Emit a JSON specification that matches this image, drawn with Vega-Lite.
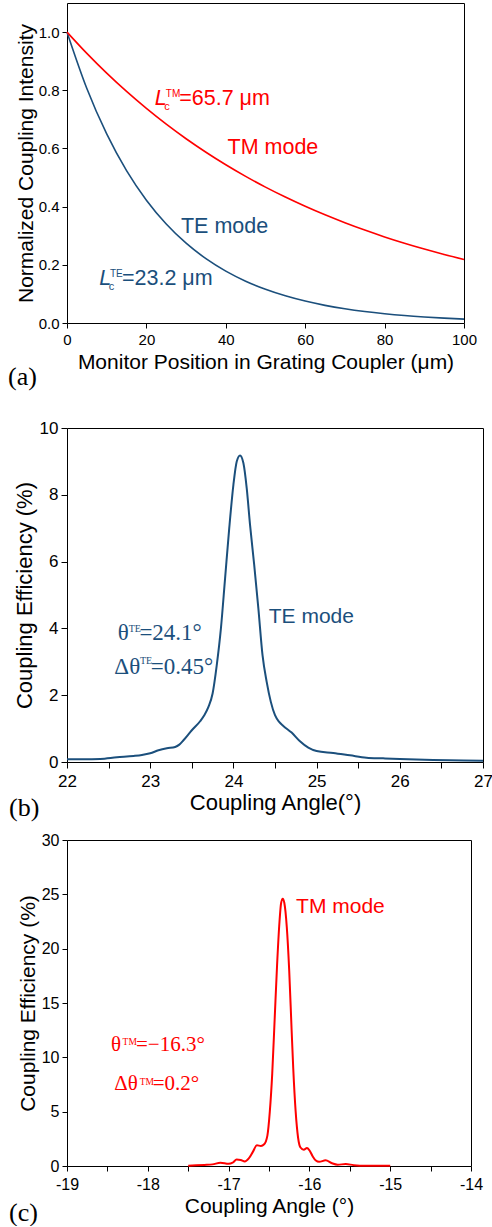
{
  "$schema": "https://vega.github.io/schema/vega-lite/v6.json",
  "padding": {"left": 8, "top": 2, "right": 0, "bottom": 0},
  "background": "white",
  "config": {
    "font": "Liberation Sans",
    "view": {"stroke": null},
    "axis": {"domainColor": "#000", "tickColor": "#000", "labelColor": "#000", "titleColor": "#000", "labelFont": "Liberation Sans", "titleFont": "Liberation Sans", "titleFontWeight": "normal", "grid": false, "labelOverlap": false, "labelFlush": false, "domainWidth": 1, "tickWidth": 1}
  },
  "bounds": "flush",
  "spacing": 105,
  "vconcat": [
    {
      "width": 397, "height": 320,
      "title": {"text": "(a)", "orient": "bottom", "anchor": "start", "frame": "group", "font": "Liberation Serif", "fontSize": 26, "fontWeight": "normal", "color": "#000", "dx": -59, "dy": -8, "offset": 0},
      "resolve": {"axis": {"x": "independent", "y": "independent"}},
      "layer": [
        {
          "layer": [
            {
              "data": {"values": [
                {"x":0,"y":1,"mode":"TE"},{"x":5,"y":0.8061,"mode":"TE"},{"x":10,"y":0.6499,"mode":"TE"},{"x":15,"y":0.5238,"mode":"TE"},{"x":20,"y":0.4223,"mode":"TE"},{"x":25,"y":0.3404,"mode":"TE"},{"x":30,"y":0.2744,"mode":"TE"},{"x":35,"y":0.2212,"mode":"TE"},{"x":40,"y":0.1783,"mode":"TE"},{"x":45,"y":0.1437,"mode":"TE"},{"x":50,"y":0.1159,"mode":"TE"},{"x":55,"y":0.0934,"mode":"TE"},{"x":60,"y":0.0753,"mode":"TE"},{"x":65,"y":0.0607,"mode":"TE"},{"x":70,"y":0.0489,"mode":"TE"},{"x":75,"y":0.0394,"mode":"TE"},{"x":80,"y":0.0318,"mode":"TE"},{"x":85,"y":0.0256,"mode":"TE"},{"x":90,"y":0.0207,"mode":"TE"},{"x":95,"y":0.0167,"mode":"TE"},{"x":100,"y":0.0134,"mode":"TE"},
                {"x":0,"y":1,"mode":"TM"},{"x":5,"y":0.9267,"mode":"TM"},{"x":10,"y":0.8588,"mode":"TM"},{"x":15,"y":0.7959,"mode":"TM"},{"x":20,"y":0.7376,"mode":"TM"},{"x":25,"y":0.6835,"mode":"TM"},{"x":30,"y":0.6334,"mode":"TM"},{"x":35,"y":0.587,"mode":"TM"},{"x":40,"y":0.544,"mode":"TM"},{"x":45,"y":0.5041,"mode":"TM"},{"x":50,"y":0.4672,"mode":"TM"},{"x":55,"y":0.433,"mode":"TM"},{"x":60,"y":0.4012,"mode":"TM"},{"x":65,"y":0.3718,"mode":"TM"},{"x":70,"y":0.3446,"mode":"TM"},{"x":75,"y":0.3193,"mode":"TM"},{"x":80,"y":0.2959,"mode":"TM"},{"x":85,"y":0.2742,"mode":"TM"},{"x":90,"y":0.2541,"mode":"TM"},{"x":95,"y":0.2355,"mode":"TM"},{"x":100,"y":0.2183,"mode":"TM"}
              ]},
              "mark": {"type": "line", "strokeWidth": 1.6, "interpolate": "monotone"},
              "encoding": {
                "x": {"field": "x", "type": "quantitative", "scale": {"domain": [0, 100], "nice": false, "zero": false},
                  "axis": {"orient": "bottom", "title": "Monitor Position in Grating Coupler (μm)", "values": [0,10,20,30,40,50,60,70,80,90,100], "labelExpr": "datum.value % 20 == 0 ? datum.label : ''", "tickSize": 5, "labelPadding": 4, "labelFontSize": 15, "titleFontSize": 21, "titlePadding": 4, "encode": {"ticks": {"update": {"y2": {"signal": "datum.value % 20 == 0 ? 5 : 3"}}}}}},
                "y": {"field": "y", "type": "quantitative", "scale": {"domain": [0, 1.1], "nice": false, "zero": false},
                  "axis": {"orient": "left", "title": "Normalized Coupling Intensity", "values": [0,0.1,0.2,0.3,0.4,0.5,0.6,0.7,0.8,0.9,1.0], "labelExpr": "round(datum.value*10) % 2 == 0 ? format(datum.value, '.1f') : ''", "tickSize": 5, "labelPadding": 3, "labelFontSize": 15, "titleFontSize": 21, "titlePadding": 2, "encode": {"ticks": {"update": {"x2": {"signal": "round(datum.value*10) % 2 == 0 ? -5 : -3"}}}}}},
                "color": {"field": "mode", "type": "nominal", "scale": {"domain": ["TE", "TM"], "range": ["#1b4f7c", "#ff0000"]}, "legend": null}
              }
            },
            {
              "data": {"values": [
                {"x":28.27,"y":0.748,"t":"=65.7 μm","mode":"TM"},
                {"x":40.43,"y":0.582,"t":"TM mode","mode":"TM"},
                {"x":28.7,"y":0.3105,"t":"TE mode","mode":"TE"},
                {"x":13.85,"y":0.131,"t":"=23.2 μm","mode":"TE"}
              ]},
              "mark": {"type": "text", "font": "Liberation Sans", "fontSize": 21.5, "align": "left", "baseline": "alphabetic"},
              "encoding": {
                "x": {"field": "x", "type": "quantitative", "scale": {"domain": [0, 100], "nice": false, "zero": false}},
                "y": {"field": "y", "type": "quantitative", "scale": {"domain": [0, 1.1], "nice": false, "zero": false}},
                "text": {"field": "t"},
                "color": {"field": "mode", "type": "nominal", "scale": {"domain": ["TE", "TM"], "range": ["#1b4f7c", "#ff0000"]}, "legend": null}
              }
            },
            {
              "data": {"values": [
                {"x":22.1,"y":0.748,"t":"L","mode":"TM"},
                {"x":8.14,"y":0.131,"t":"L","mode":"TE"}
              ]},
              "mark": {"type": "text", "font": "Liberation Sans", "fontStyle": "italic", "fontSize": 21.5, "align": "left", "baseline": "alphabetic"},
              "encoding": {
                "x": {"field": "x", "type": "quantitative", "scale": {"domain": [0, 100], "nice": false, "zero": false}},
                "y": {"field": "y", "type": "quantitative", "scale": {"domain": [0, 1.1], "nice": false, "zero": false}},
                "text": {"field": "t"},
                "color": {"field": "mode", "type": "nominal", "scale": {"domain": ["TE", "TM"], "range": ["#1b4f7c", "#ff0000"]}, "legend": null}
              }
            },
            {
              "data": {"values": [
                {"x":24.5,"y":0.731,"t":"c","mode":"TM"},
                {"x":10.5,"y":0.112,"t":"c","mode":"TE"}
              ]},
              "mark": {"type": "text", "font": "Liberation Sans", "fontSize": 11, "align": "left", "baseline": "alphabetic"},
              "encoding": {
                "x": {"field": "x", "type": "quantitative", "scale": {"domain": [0, 100], "nice": false, "zero": false}},
                "y": {"field": "y", "type": "quantitative", "scale": {"domain": [0, 1.1], "nice": false, "zero": false}},
                "text": {"field": "t"},
                "color": {"field": "mode", "type": "nominal", "scale": {"domain": ["TE", "TM"], "range": ["#1b4f7c", "#ff0000"]}, "legend": null}
              }
            },
            {
              "data": {"values": [
                {"x":24.9,"y":0.7765,"t":"TM","mode":"TM"},
                {"x":10.8,"y":0.158,"t":"TE","mode":"TE"}
              ]},
              "mark": {"type": "text", "font": "Liberation Sans", "fontSize": 10, "align": "left", "baseline": "alphabetic"},
              "encoding": {
                "x": {"field": "x", "type": "quantitative", "scale": {"domain": [0, 100], "nice": false, "zero": false}},
                "y": {"field": "y", "type": "quantitative", "scale": {"domain": [0, 1.1], "nice": false, "zero": false}},
                "text": {"field": "t"},
                "color": {"field": "mode", "type": "nominal", "scale": {"domain": ["TE", "TM"], "range": ["#1b4f7c", "#ff0000"]}, "legend": null}
              }
            }
          ]
        },
        {
          "data": {"values": [{"x": 0, "y": 0}]},
          "mark": {"type": "point", "opacity": 0},
          "encoding": {
            "x": {"field": "x", "type": "quantitative", "scale": {"domain": [0, 100], "nice": false, "zero": false},
              "axis": {"orient": "top", "title": null, "labels": false, "values": [0,10,20,30,40,50,60,70,80,90,100], "tickSize": 0, "encode": {"ticks": {"update": {"y2": {"signal": "datum.value % 20 == 0 ? 5 : 3"}}}}}},
            "y": {"field": "y", "type": "quantitative", "scale": {"domain": [0, 1.1], "nice": false, "zero": false},
              "axis": {"orient": "right", "title": null, "labels": false, "values": [0,0.1,0.2,0.3,0.4,0.5,0.6,0.7,0.8,0.9,1.0], "tickSize": 0, "encode": {"ticks": {"update": {"x2": {"signal": "round(datum.value*10) % 2 == 0 ? -5 : -3"}}}}}}
          }
        }
      ]
    },
    {
      "bounds": "flush",
      "spacing": 78,
      "vconcat": [
        {
          "width": 416, "height": 334,
          "title": {"text": "(b)", "orient": "bottom", "anchor": "start", "frame": "group", "font": "Liberation Serif", "fontSize": 26, "fontWeight": "normal", "color": "#000", "dx": -58, "dy": -18, "offset": 0},
          "resolve": {"axis": {"x": "independent", "y": "independent"}},
          "layer": [
            {
              "layer": [
                {
                  "data": {"values": [
                    {"x":22.0,"y":0.08},{"x":22.2,"y":0.08},{"x":22.4,"y":0.09},{"x":22.6,"y":0.14},{"x":22.8,"y":0.18},{"x":22.9,"y":0.21},{"x":23.0,"y":0.26},{"x":23.1,"y":0.35},{"x":23.2,"y":0.41},{"x":23.3,"y":0.45},{"x":23.35,"y":0.52},{"x":23.4,"y":0.65},{"x":23.5,"y":0.95},{"x":23.6,"y":1.22},{"x":23.65,"y":1.4},{"x":23.7,"y":1.65},{"x":23.75,"y":2.05},{"x":23.8,"y":2.9},{"x":23.85,"y":4.0},{"x":23.9,"y":5.5},{"x":23.95,"y":7.0},{"x":24.0,"y":8.3},{"x":24.04,"y":9.0},{"x":24.08,"y":9.18},{"x":24.12,"y":8.95},{"x":24.16,"y":8.2},{"x":24.2,"y":7.1},{"x":24.25,"y":5.9},{"x":24.3,"y":4.6},{"x":24.35,"y":3.2},{"x":24.4,"y":2.4},{"x":24.45,"y":1.8},{"x":24.5,"y":1.4},{"x":24.55,"y":1.2},{"x":24.6,"y":1.08},{"x":24.7,"y":0.88},{"x":24.8,"y":0.62},{"x":24.9,"y":0.43},{"x":25.0,"y":0.33},{"x":25.2,"y":0.27},{"x":25.4,"y":0.2},{"x":25.6,"y":0.13},{"x":25.8,"y":0.11},{"x":26.0,"y":0.09},{"x":26.3,"y":0.07},{"x":26.6,"y":0.05},{"x":27.0,"y":0.04}
                  ]},
                  "mark": {"type": "line", "strokeWidth": 2, "interpolate": "monotone", "color": "#1b4f7c"},
                  "encoding": {
                    "x": {"field": "x", "type": "quantitative", "scale": {"domain": [22, 27], "nice": false, "zero": false},
                      "axis": {"orient": "bottom", "title": "Coupling Angle(°)", "values": [22,22.5,23,23.5,24,24.5,25,25.5,26,26.5,27], "labelExpr": "datum.value % 1 == 0 ? '' + datum.value : ''", "tickSize": 6, "labelPadding": 5, "labelFontSize": 17, "titleFontSize": 22, "titlePadding": 3, "encode": {"ticks": {"update": {"y2": {"signal": "datum.value % 1 == 0 ? 6 : 3"}}}}}},
                    "y": {"field": "y", "type": "quantitative", "scale": {"domain": [0, 10], "nice": false, "zero": false},
                      "axis": {"orient": "left", "title": "Coupling Efficiency (%)", "values": [0,1,2,3,4,5,6,7,8,9,10], "labelExpr": "datum.value % 2 == 0 ? '' + datum.value : ''", "tickSize": 6, "labelPadding": 3, "labelFontSize": 17, "titleFontSize": 22, "titlePadding": 3, "encode": {"ticks": {"update": {"x2": {"signal": "datum.value % 2 == 0 ? -6 : -3"}}}}}}
                  }
                },
                {
                  "data": {"values": [
                    {"x":22.609,"y":3.664,"t":"θ"},
                    {"x":22.87,"y":3.664,"t":"=24.1°"},
                    {"x":22.569,"y":2.646,"t":"Δθ"},
                    {"x":23.008,"y":2.646,"t":"=0.45°"}
                  ]},
                  "mark": {"type": "text", "font": "Liberation Serif", "fontSize": 23, "align": "left", "baseline": "alphabetic", "color": "#1b4f7c"},
                  "encoding": {
                    "x": {"field": "x", "type": "quantitative", "scale": {"domain": [22, 27], "nice": false, "zero": false}},
                    "y": {"field": "y", "type": "quantitative", "scale": {"domain": [0, 10], "nice": false, "zero": false}},
                    "text": {"field": "t"}
                  }
                },
                {
                  "data": {"values": [
                    {"x":22.741,"y":3.891,"t":"TE"},
                    {"x":22.876,"y":2.92,"t":"TE"}
                  ]},
                  "mark": {"type": "text", "font": "Liberation Serif", "fontSize": 10, "align": "left", "baseline": "alphabetic", "color": "#1b4f7c"},
                  "encoding": {
                    "x": {"field": "x", "type": "quantitative", "scale": {"domain": [22, 27], "nice": false, "zero": false}},
                    "y": {"field": "y", "type": "quantitative", "scale": {"domain": [0, 10], "nice": false, "zero": false}},
                    "text": {"field": "t"}
                  }
                },
                {
                  "data": {"values": [
                    {"x":24.425,"y":4.16,"t":"TE mode"}
                  ]},
                  "mark": {"type": "text", "font": "Liberation Sans", "fontSize": 21, "align": "left", "baseline": "alphabetic", "color": "#1b4f7c"},
                  "encoding": {
                    "x": {"field": "x", "type": "quantitative", "scale": {"domain": [22, 27], "nice": false, "zero": false}},
                    "y": {"field": "y", "type": "quantitative", "scale": {"domain": [0, 10], "nice": false, "zero": false}},
                    "text": {"field": "t"}
                  }
                }
              ]
            },
            {
              "data": {"values": [{"x": 22, "y": 0}]},
              "mark": {"type": "point", "opacity": 0},
              "encoding": {
                "x": {"field": "x", "type": "quantitative", "scale": {"domain": [22, 27], "nice": false, "zero": false},
                  "axis": {"orient": "top", "title": null, "labels": false, "values": [22,22.5,23,23.5,24,24.5,25,25.5,26,26.5,27], "tickSize": 0, "encode": {"ticks": {"update": {"y2": {"signal": "datum.value % 1 == 0 ? 6 : 3"}}}}}},
                "y": {"field": "y", "type": "quantitative", "scale": {"domain": [0, 10], "nice": false, "zero": false},
                  "axis": {"orient": "right", "title": null, "labels": false, "values": [0,1,2,3,4,5,6,7,8,9,10], "tickSize": 0, "encode": {"ticks": {"update": {"x2": {"signal": "datum.value % 2 == 0 ? -6 : -3"}}}}}}
              }
            }
          ]
        },
        {
          "width": 404, "height": 326,
          "title": {"text": "(c)", "orient": "bottom", "anchor": "start", "frame": "group", "font": "Liberation Serif", "fontSize": 26, "fontWeight": "normal", "color": "#000", "dx": -58, "dy": -16, "offset": 0},
          "resolve": {"axis": {"x": "independent", "y": "independent"}},
          "layer": [
            {
              "layer": [
                {
                  "data": {"values": [
                    {"x":-17.5,"y":0.03},{"x":-17.4,"y":0.06},{"x":-17.3,"y":0.1},{"x":-17.2,"y":0.15},{"x":-17.1,"y":0.3},{"x":-17.0,"y":0.2},{"x":-16.95,"y":0.3},{"x":-16.9,"y":0.6},{"x":-16.85,"y":0.55},{"x":-16.8,"y":0.42},{"x":-16.75,"y":0.7},{"x":-16.7,"y":1.3},{"x":-16.65,"y":1.9},{"x":-16.6,"y":1.85},{"x":-16.56,"y":2.0},{"x":-16.52,"y":2.8},{"x":-16.49,"y":5.0},{"x":-16.46,"y":8.5},{"x":-16.43,"y":13.5},{"x":-16.4,"y":18.5},{"x":-16.37,"y":22.5},{"x":-16.35,"y":24.2},{"x":-16.33,"y":24.6},{"x":-16.31,"y":24.2},{"x":-16.28,"y":22.0},{"x":-16.25,"y":18.0},{"x":-16.22,"y":12.5},{"x":-16.2,"y":9.0},{"x":-16.17,"y":5.0},{"x":-16.14,"y":2.6},{"x":-16.11,"y":1.7},{"x":-16.07,"y":1.5},{"x":-16.03,"y":1.65},{"x":-16.0,"y":1.45},{"x":-15.96,"y":0.9},{"x":-15.92,"y":0.5},{"x":-15.88,"y":0.38},{"x":-15.8,"y":0.52},{"x":-15.72,"y":0.25},{"x":-15.65,"y":0.12},{"x":-15.55,"y":0.18},{"x":-15.45,"y":0.08},{"x":-15.3,"y":0.03},{"x":-15.0,"y":0.03}
                  ]},
                  "mark": {"type": "line", "strokeWidth": 2, "interpolate": "monotone", "color": "#ff0000"},
                  "encoding": {
                    "x": {"field": "x", "type": "quantitative", "scale": {"domain": [-19, -14], "nice": false, "zero": false},
                      "axis": {"orient": "bottom", "title": "Coupling Angle (°)", "values": [-19,-18.5,-18,-17.5,-17,-16.5,-16,-15.5,-15,-14.5,-14], "labelExpr": "datum.value % 1 == 0 ? '' + datum.value : ''", "tickSize": 5, "labelPadding": 5, "labelFontSize": 16, "titleFontSize": 21, "titlePadding": 3, "encode": {"ticks": {"update": {"y2": {"signal": "datum.value % 1 == 0 ? 5 : 3"}}}}}},
                    "y": {"field": "y", "type": "quantitative", "scale": {"domain": [0, 30], "nice": false, "zero": false},
                      "axis": {"orient": "left", "title": "Coupling Efficiency (%)", "values": [0,2.5,5,7.5,10,12.5,15,17.5,20,22.5,25,27.5,30], "labelExpr": "datum.value % 5 == 0 ? '' + datum.value : ''", "tickSize": 5, "labelPadding": 3, "labelFontSize": 16, "titleFontSize": 21, "titlePadding": 3, "encode": {"ticks": {"update": {"x2": {"signal": "datum.value % 5 == 0 ? -5 : -3"}}}}}}
                  }
                },
                {
                  "data": {"values": [
                    {"x":-18.455,"y":10.59,"t":"θ"},
                    {"x":-18.146,"y":10.59,"t":"=−16.3°"},
                    {"x":-18.414,"y":6.97,"t":"Δθ"},
                    {"x":-17.94,"y":6.97,"t":"=0.2°"}
                  ]},
                  "mark": {"type": "text", "font": "Liberation Serif", "fontSize": 21, "align": "left", "baseline": "alphabetic", "color": "#ff0000"},
                  "encoding": {
                    "x": {"field": "x", "type": "quantitative", "scale": {"domain": [-19, -14], "nice": false, "zero": false}},
                    "y": {"field": "y", "type": "quantitative", "scale": {"domain": [0, 30], "nice": false, "zero": false}},
                    "text": {"field": "t"}
                  }
                },
                {
                  "data": {"values": [
                    {"x":-18.312,"y":11.12,"t":"TM"},
                    {"x":-18.1,"y":7.43,"t":"TM"}
                  ]},
                  "mark": {"type": "text", "font": "Liberation Serif", "fontSize": 9.5, "align": "left", "baseline": "alphabetic", "color": "#ff0000"},
                  "encoding": {
                    "x": {"field": "x", "type": "quantitative", "scale": {"domain": [-19, -14], "nice": false, "zero": false}},
                    "y": {"field": "y", "type": "quantitative", "scale": {"domain": [0, 30], "nice": false, "zero": false}},
                    "text": {"field": "t"}
                  }
                },
                {
                  "data": {"values": [
                    {"x":-16.165,"y":23.25,"t":"TM mode"}
                  ]},
                  "mark": {"type": "text", "font": "Liberation Sans", "fontSize": 21, "align": "left", "baseline": "alphabetic", "color": "#ff0000"},
                  "encoding": {
                    "x": {"field": "x", "type": "quantitative", "scale": {"domain": [-19, -14], "nice": false, "zero": false}},
                    "y": {"field": "y", "type": "quantitative", "scale": {"domain": [0, 30], "nice": false, "zero": false}},
                    "text": {"field": "t"}
                  }
                }
              ]
            },
            {
              "data": {"values": [{"x": -19, "y": 0}]},
              "mark": {"type": "point", "opacity": 0},
              "encoding": {
                "x": {"field": "x", "type": "quantitative", "scale": {"domain": [-19, -14], "nice": false, "zero": false},
                  "axis": {"orient": "top", "title": null, "labels": false, "values": [-19,-18.5,-18,-17.5,-17,-16.5,-16,-15.5,-15,-14.5,-14], "tickSize": 0, "encode": {"ticks": {"update": {"y2": {"signal": "datum.value % 1 == 0 ? 5 : 3"}}}}}},
                "y": {"field": "y", "type": "quantitative", "scale": {"domain": [0, 30], "nice": false, "zero": false},
                  "axis": {"orient": "right", "title": null, "labels": false, "values": [0,2.5,5,7.5,10,12.5,15,17.5,20,22.5,25,27.5,30], "tickSize": 0, "encode": {"ticks": {"update": {"x2": {"signal": "datum.value % 5 == 0 ? -5 : -3"}}}}}}
              }
            }
          ]
        }
      ]
    }
  ]
}
